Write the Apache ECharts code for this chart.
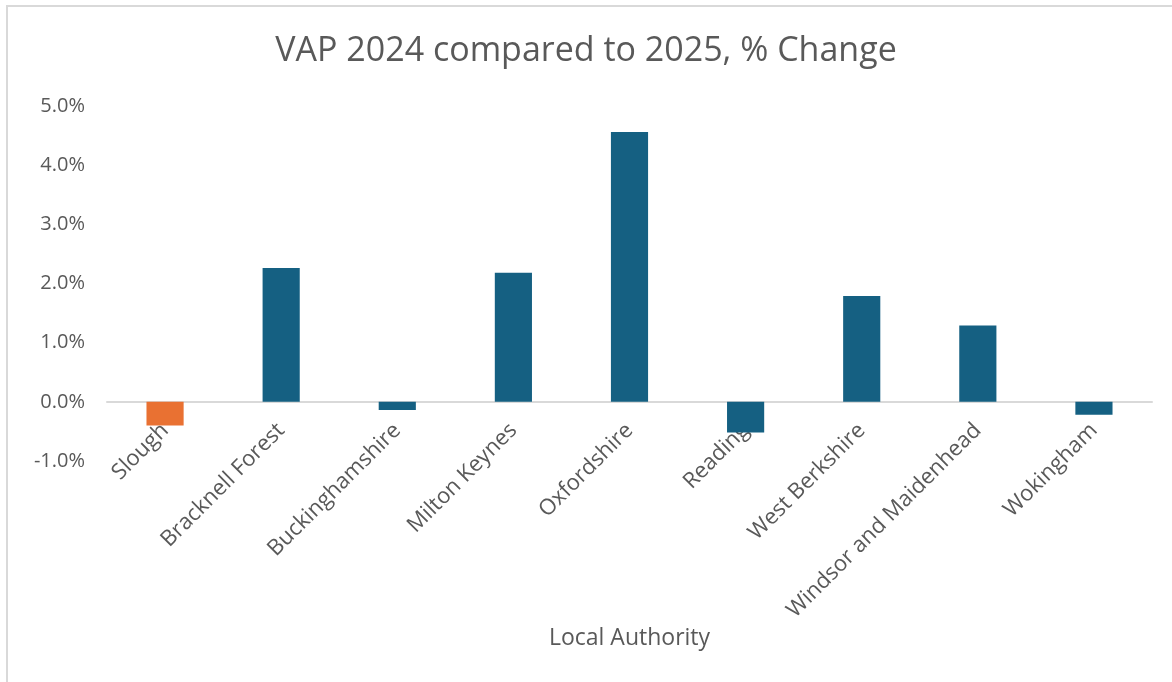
<!DOCTYPE html>
<html>
<head>
<meta charset="utf-8">
<script src="https://cdn.jsdelivr.net/npm/echarts@6/dist/echarts.min.js"></script>
<style>
  html, body { margin: 0; padding: 0; background: #fff; }
  #wrap { position: relative; width: 1172px; height: 682px; }
  #myChart { position: absolute; left: 0; top: 0; width: 1172px; height: 682px; }
  #frame { position: absolute; left: 6px; top: 5px; width: 1166px; height: 677px;
           border-top: 2px solid #d9d9d9; border-left: 2px solid #d9d9d9; box-sizing: border-box; pointer-events: none; }
</style>
</head>
<body>
<div id="wrap">
  <div id="myChart"></div>
  <div id="frame"></div>
</div>
<script>
var authorities = ['Slough', 'Bracknell Forest', 'Buckinghamshire', 'Milton Keynes', 'Oxfordshire',
                   'Reading', 'West Berkshire', 'Windsor and Maidenhead', 'Wokingham'];
// % change, VAP 2024 -> 2025
var pctChange = [-0.4, 2.26, -0.14, 2.18, 4.56, -0.52, 1.79, 1.29, -0.22];
var highlight = 'Slough';

var myChart = echarts.init(document.getElementById('myChart'));

var textGrey = '#595959';
var font = 'Open Sans';

var option = {
    animation: false,
    title: {
        text: 'VAP 2024 compared to 2025, % Change',
        left: 'center',
        top: 29,
        textStyle: {
            fontFamily: font,
            fontSize: 34,
            fontWeight: 'normal',
            color: textGrey
        }
    },
    grid: {
        left: 107,
        right: 20,
        top: 106,
        bottom: 221,
        outerBoundsMode: 'none'
    },
    xAxis: {
        type: 'category',
        data: authorities,
        name: 'Local Authority',
        nameLocation: 'middle',
        nameGap: 166,
        nameMoveOverlap: false,
        nameTextStyle: {
            fontFamily: font,
            fontSize: 23,
            color: textGrey
        },
        axisLine: { onZero: true, lineStyle: { color: '#d9d9d9', width: 2 } },
        axisTick: { show: false },
        axisLabel: {
            rotate: 45,
            interval: 0,
            margin: -34,
            fontFamily: font,
            fontSize: 22,
            color: textGrey
        }
    },
    yAxis: {
        type: 'value',
        min: -1,
        max: 5,
        interval: 1,
        axisLine: { show: false },
        axisTick: { show: false },
        splitLine: { show: false },
        axisLabel: {
            margin: 22,
            fontFamily: font,
            fontSize: 20,
            color: textGrey,
            formatter: function (v) { return v.toFixed(1) + '%'; }
        }
    },
    series: [
        {
            type: 'bar',
            barWidth: '32%',
            data: pctChange.map(function (v, i) {
                return {
                    value: v,
                    itemStyle: { color: authorities[i] === highlight ? '#e97132' : '#156082' }
                };
            })
        }
    ]
};

myChart.setOption(option);

window.onresize = function () {
    myChart.resize();
};
</script>
</body>
</html>
